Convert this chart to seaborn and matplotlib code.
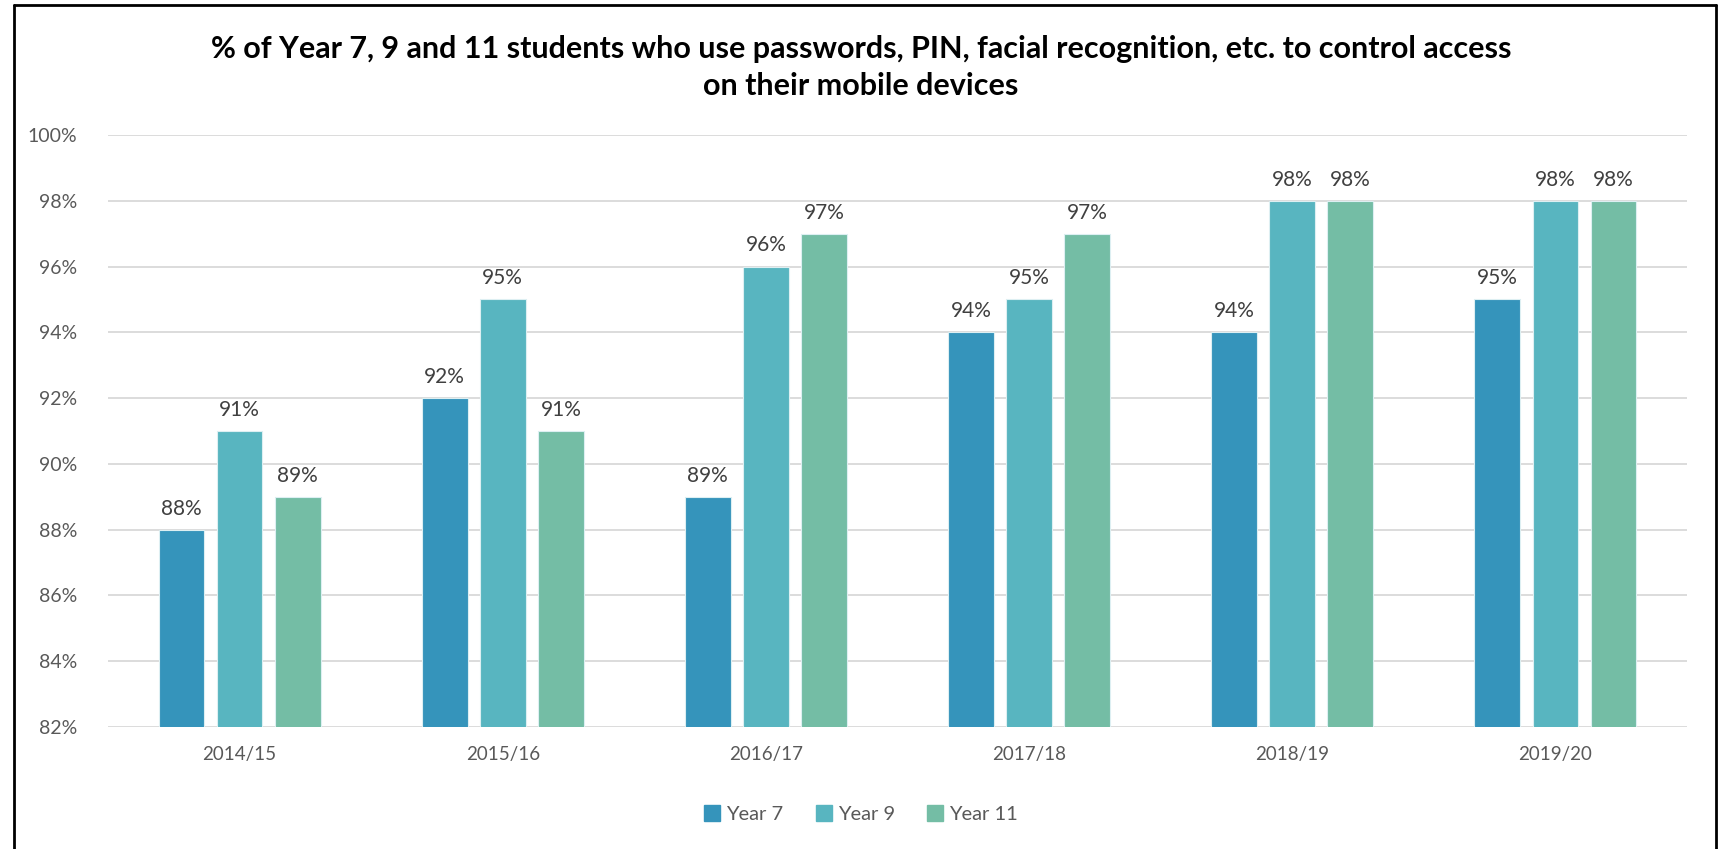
import matplotlib
matplotlib.use("Agg")
import matplotlib.pyplot as plt
import matplotlib.patches as mpatches
from matplotlib.lines import Line2D
import seaborn as sns
import pandas as pd

# Survey results by school year
years = ["2014/15", "2015/16", "2016/17", "2017/18", "2018/19", "2019/20"]
year7 = [88, 92, 89, 94, 94, 95]
year9 = [91, 95, 96, 95, 98, 98]
year11 = [89, 91, 97, 97, 98, 98]
groups = ["Year 7", "Year 9", "Year 11"]
y_ticks = [82, 84, 86, 88, 90, 92, 94, 96, 98, 100]

colors = ["#3594BB", "#58B5C0", "#74BDA5"]

df = pd.DataFrame({
    "year": years * 3,
    "group": [groups[0]] * 6 + [groups[1]] * 6 + [groups[2]] * 6,
    "value": year7 + year9 + year11,
})

sns.set_theme(style="white")
plt.rcParams["font.family"] = ["Lato", "DejaVu Sans"]

fig = plt.figure(figsize=(17.22, 8.49), dpi=100)
ax = fig.add_axes([0.0627, 0.1437, 0.917, 0.6973])

sns.barplot(data=df, x="year", y="value", hue="group", hue_order=groups,
            palette=colors, saturation=1, width=0.662, gap=0.21, ax=ax,
            legend=False, edgecolor="#DDEFF2", linewidth=0.8)

ax.set_ylim(82, 100)
ax.set_yticks(y_ticks)
ax.set_yticklabels([f"{t}%" for t in y_ticks], color="#595959", fontsize=14)
ax.tick_params(axis="x", colors="#595959", labelsize=13.5, length=0, pad=14)
ax.tick_params(axis="y", length=0, pad=22)
ax.set_xlim(-0.5, len(years) - 0.5)
ax.set_xlabel("")
ax.set_ylabel("")
ax.yaxis.grid(True, color="#D9D9D9", linewidth=1.3)
ax.set_axisbelow(True)
for s in ax.spines.values():
    s.set_visible(False)

for cont in ax.containers:
    labels = [f"{v:.0f}%" for v in cont.datavalues]
    ax.bar_label(cont, labels=labels, padding=8, color="#404040", fontsize=15)

fig.text(0.5, 0.942, "% of Year 7, 9 and 11 students who use passwords, PIN, facial recognition, etc. to control access",
         ha="center", va="center", fontsize=22, fontweight="bold", color="#000000")
fig.text(0.5, 0.899, "on their mobile devices",
         ha="center", va="center", fontsize=22, fontweight="bold", color="#000000")

handles = [mpatches.Patch(color=c, label=g) for c, g in zip(colors, groups)]
fig.legend(handles=handles, loc="center", bbox_to_anchor=(0.5, 0.041), ncol=3,
           frameon=False, fontsize=14.5, labelcolor="#595959",
           handlelength=0.8, handleheight=0.8, handletextpad=0.3, columnspacing=1.6)

# outer frame
fx0, fx1, fy1 = 13.5 / 1722, 1715.5 / 1722, 1 - 4.5 / 849
for xs, ys in [([fx0, fx0], [0, fy1]), ([fx1, fx1], [0, fy1]), ([fx0, fx1], [fy1, fy1])]:
    fig.add_artist(Line2D(xs, ys, transform=fig.transFigure, color="black", linewidth=2))

fig.savefig("out.png", dpi=100)
